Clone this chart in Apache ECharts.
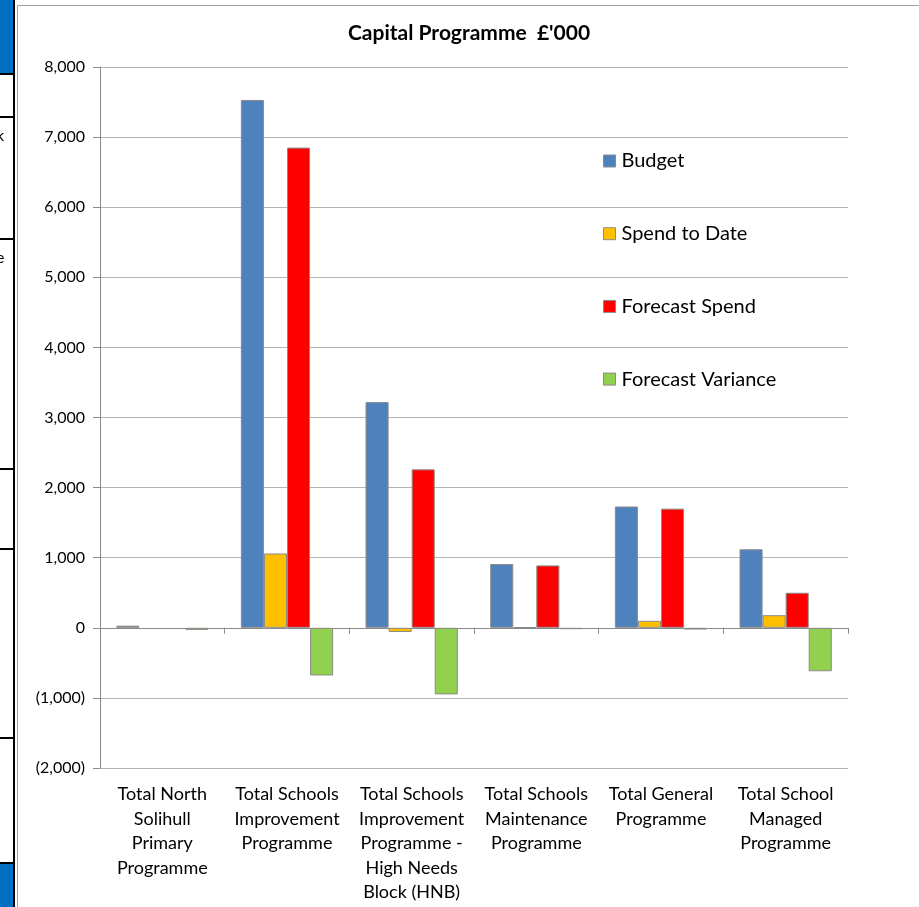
<!DOCTYPE html>
<html>
<head>
    <meta charset="UTF-8">
    <title>Capital Programme</title>
    <script type="text/javascript" src="https://cdn.jsdelivr.net/npm/echarts@6/dist/echarts.min.js"></script>
</head>
<body style="margin: 0; background: #fff">
<div id="container" style="width: 919px; height: 907px"></div>
<script type="text/javascript">
    // categories and values (£'000)
    const categories = [
        'Total North\nSolihull\nPrimary\nProgramme',
        'Total Schools\nImprovement\nProgramme',
        'Total Schools\nImprovement\nProgramme -\nHigh Needs\nBlock (HNB)',
        'Total Schools\nMaintenance\nProgramme',
        'Total General\nProgramme',
        'Total School\nManaged\nProgramme'
    ];
    const budget = [30, 7530, 3220, 910, 1730, 1120];
    const spendToDate = [null, 1060, -60, 5, 100, 180];
    const forecastSpend = [null, 6850, 2260, 890, 1700, 500];
    const forecastVariance = [-30, -680, -950, -20, -25, -620];
    const yTicks = {min: -2000, max: 8000, step: 1000};

    const font = 'Lato, "Open Sans", sans-serif';
    const dom = document.getElementById('container');
    const myChart = echarts.init(dom);

    function fmt(v) {
        const s = Math.abs(v).toLocaleString('en-GB');
        return v < 0 ? '(' + s + ')' : s;
    }

    function bar(name, data, color) {
        return {
            name: name,
            type: 'bar',
            data: data,
            barGap: 0,
            barCategoryGap: '26%',
            itemStyle: {color: color, borderColor: '#8a8a8a', borderWidth: 1},
            emphasis: {disabled: true}
        };
    }

    // the spreadsheet cells cut off on the left
    const strip = [];
    [74, 117, 239, 469, 549, 738, 863].forEach(function (y) {
        strip.push({type: 'line', shape: {x1: 0, y1: y, x2: 14, y2: y}, style: {stroke: '#000', lineWidth: 2}});
    });
    strip.push({type: 'rect', shape: {x: 0, y: 0, width: 14, height: 73}, style: {fill: '#0070C0'}});
    strip.push({type: 'rect', shape: {x: 0, y: 864, width: 14, height: 43}, style: {fill: '#0070C0'}});
    strip.push({type: 'line', shape: {x1: 14, y1: 0, x2: 14, y2: 907}, style: {stroke: '#000', lineWidth: 2}});
    strip.push({type: 'text', x: -4, y: 128, style: {text: 'k', font: '16px ' + font, fill: '#000'}});
    strip.push({type: 'text', x: -4, y: 250, style: {text: 'e', font: '16px ' + font, fill: '#000'}});
    strip.push({type: 'rect', shape: {x: 17.5, y: 5.5, width: 910, height: 910}, style: {fill: 'none', stroke: '#a0a0a0', lineWidth: 1}});

    const option = {
        animation: false,
        backgroundColor: '#fff',
        textStyle: {fontFamily: font, color: '#000'},
        title: {
            text: "Capital Programme  £'000",
            left: 464,
            textAlign: 'center',
            top: 18,
            textStyle: {fontSize: 21, fontWeight: 'bold', color: '#000', fontFamily: font}
        },
        legend: {
            orient: 'vertical',
            left: 598,
            top: 144,
            icon: 'rect',
            itemWidth: 12,
            itemHeight: 12,
            itemGap: 48.7,
            itemStyle: {borderColor: '#8a8a8a', borderWidth: 1},
            textStyle: {fontSize: 20, lineHeight: 24, color: '#000', fontFamily: font, padding: [0, 0, 0, 1]},
            data: ['Budget', 'Spend to Date', 'Forecast Spend', 'Forecast Variance']
        },
        grid: {left: 100, right: 71, top: 67, bottom: 139, containLabel: false},
        xAxis: [{
            type: 'category',
            data: categories,
            axisLine: {onZero: true, lineStyle: {color: '#8a8a8a', width: 1}},
            axisTick: {show: true, length: 6, lineStyle: {color: '#8a8a8a'}},
            axisLabel: {show: false}
        }, {
            type: 'category',
            position: 'bottom',
            data: categories,
            axisLine: {show: false},
            axisTick: {show: false},
            axisLabel: {
                interval: 0,
                margin: 14,
                fontSize: 18,
                lineHeight: 24.5,
                color: '#000',
                fontFamily: font,
                align: 'center'
            }
        }],
        yAxis: {
            type: 'value',
            min: yTicks.min,
            max: yTicks.max,
            interval: yTicks.step,
            axisLine: {show: true, lineStyle: {color: '#8a8a8a'}},
            axisTick: {show: true, length: 7, lineStyle: {color: '#8a8a8a'}},
            axisLabel: {formatter: fmt, fontSize: 16, color: '#000', margin: 15, fontFamily: font},
            splitLine: {lineStyle: {color: '#b4b4b4', width: 1}}
        },
        series: [
            bar('Budget', budget, '#4F81BD'),
            bar('Spend to Date', spendToDate, '#FFC000'),
            bar('Forecast Spend', forecastSpend, '#FF0000'),
            bar('Forecast Variance', forecastVariance, '#92D050')
        ],
        graphic: strip
    };

    myChart.setOption(option, true);
</script>
</body>
</html>
